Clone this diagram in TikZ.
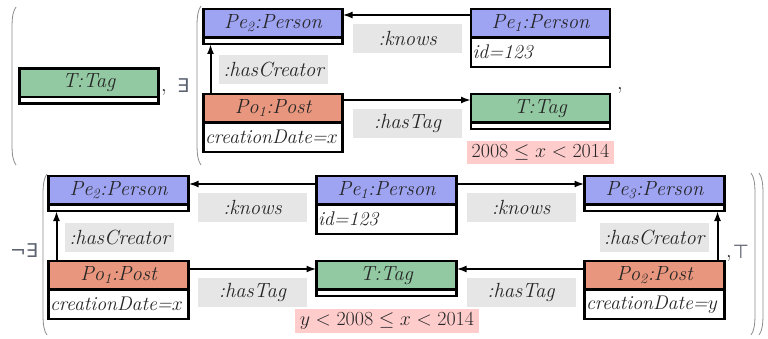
\RequirePackage{fix-cm}
\documentclass[tikz,border=0pt]{standalone}
\usepackage{fontspec}
\newfontfamily\symfont{DejaVu Sans}
\usetikzlibrary{arrows.meta}
\definecolor{personfill}{HTML}{9EA3F2}
\definecolor{postfill}{HTML}{E8967D}
\definecolor{tagfill}{HTML}{92C8A2}
\definecolor{lblfill}{HTML}{E6E6E6}
\definecolor{condfill}{HTML}{FFCCCC}
\definecolor{delimgray}{HTML}{8C8C8C}
\definecolor{symgray}{HTML}{5C6270}

\begin{document}
\begin{tikzpicture}[x=1pt,y=-1pt,
  every node/.style={inner sep=0pt, outer sep=0pt},
  boxfont/.style={font=\fontsize{20.5}{23}\selectfont\itshape},
  attrfont/.style={font=\fontsize{19.8}{23}\selectfont\itshape},
  classhead/.style={draw, line width=2.4pt, minimum width=139pt, minimum height=28.5pt,
    anchor=north west, boxfont, text=black!85},
  person/.style={classhead, fill=personfill},
  post/.style={classhead, fill=postfill},
  tag/.style={classhead, fill=tagfill},
  strip/.style={draw, line width=2.4pt, fill=white, minimum width=139pt,
    minimum height=6.5pt, anchor=north},
  attr/.style={draw, line width=2.4pt, fill=white, minimum width=139pt,
    minimum height=29.5pt, anchor=north, text width=136pt, align=left,
    inner xsep=1.5pt, attrfont, text=black!85},
  wide/.style={minimum width=140pt},
  wideattr/.style={minimum width=140pt, text width=137pt},
  lbl/.style={fill=lblfill, minimum width=109pt, minimum height=29pt, boxfont, text=black!85},
  cond/.style={fill=condfill, minimum height=23.5pt, font=\fontsize{20}{23}\selectfont, text=black!85},
  conn/.style={line width=2pt, -{Latex[length=10pt,width=7pt]}},
  delim/.style={draw=delimgray, line width=0.8pt},
  sym/.style={font=\symfont\fontsize{19}{22}\selectfont, text=symgray},
  punct/.style={anchor=base, boxfont, text=black!85}]

\useasboundingbox (0,0) rectangle (768,339);

% ---------- first line ----------
\draw[delim] (16,7) .. controls (13,11) and (12,17) .. (12,28) -- (12,144)
  .. controls (12,155) and (13,161) .. (16,165);
\node[tag] (tg0) at (19.5,68.5) {T:Tag};
\node[strip] (tg0s) at (tg0.south) {};
\node[punct] (cm1) at (164,92) {$,$};
\node[sym] (ex1) at (183,85.5) {∃};
\draw[delim] (201,6) .. controls (198,10) and (197,16) .. (197,27) -- (197,144)
  .. controls (197,155) and (198,161) .. (201,165);

\node[person] (pe2) at (203.5,9) {Pe\textsubscript{2}:Person};
\node[strip] (pe2s) at (pe2.south) {};
\node[post] (po1) at (203.5,94) {Po\textsubscript{1}:Post};
\node[attr] (po1a) at (po1.south) {creationDate=$x$};
\node[person] (pe1) at (471,9) {Pe\textsubscript{1}:Person};
\node[attr] (pe1a) at (pe1.south) {id=123};
\node[tag] (tg1) at (471,94) {T:Tag};
\node[strip] (tg1s) at (tg1.south) {};
\node[punct] (cm2) at (620,90) {$,$};

\draw[conn] ([yshift=-6pt]pe1.north west) -- ([yshift=-6pt]pe2.north east);
\draw[conn] ([xshift=7pt]po1.north west) -- ([xshift=7pt]pe2s.south west);
\draw[conn] ([yshift=-6pt]po1.north east) -- ([yshift=-6pt]tg1.north west);

\node[lbl] (k1) at (407.5,38.7) {:knows};
\node[lbl] (hc1) at (273.5,69.5) {:hasCreator};
\node[lbl] (ht1) at (407.5,123.5) {:hasTag};
\node[cond, minimum width=147pt] (c1) at (540.5,152.5) {$2008\leq x<2014$};

% ---------- second line ----------
\node[sym] (nex) at (24,251) {¬∃};
\draw[delim] (47,174) .. controls (44,178) and (43,184) .. (43,195) -- (43,314)
  .. controls (43,325) and (44,331) .. (47,335);

\node[person, wide] (qe2) at (48.5,176) {Pe\textsubscript{2}:Person};
\node[strip, wide] (qe2s) at (qe2.south) {};
\node[person, wide] (qe1) at (316.5,176) {Pe\textsubscript{1}:Person};
\node[attr, wideattr] (qe1a) at (qe1.south) {id=123};
\node[person, wide] (qe3) at (584.5,176) {Pe\textsubscript{3}:Person};
\node[strip, wide] (qe3s) at (qe3.south) {};
\node[post, wide] (qo1) at (48.5,261) {Po\textsubscript{1}:Post};
\node[attr, wideattr] (qo1a) at (qo1.south) {creationDate=$x$};
\node[tag, wide] (tg2) at (316.5,261) {T:Tag};
\node[strip, wide] (tg2s) at (tg2.south) {};
\node[post, wide] (qo2) at (584.5,261) {Po\textsubscript{2}:Post};
\node[attr, wideattr] (qo2a) at (qo2.south) {creationDate=$y$};

\draw[conn] ([yshift=-8pt]qe1.north west) -- ([yshift=-8pt]qe2.north east);
\draw[conn] ([yshift=-8pt]qe1.north east) -- ([yshift=-8pt]qe3.north west);
\draw[conn] ([xshift=8pt]qo1.north west) -- ([xshift=8pt]qe2s.south west);
\draw[conn] ([xshift=-7pt]qo2.north east) -- ([xshift=-7pt]qe3s.south east);
\draw[conn] ([yshift=-8pt]qo1.north east) -- ([yshift=-8pt]tg2.north west);
\draw[conn] ([yshift=-8pt]qo2.north west) -- ([yshift=-8pt]tg2.north east);

\node[lbl] (k2) at (252.5,207.5) {:knows};
\node[lbl] (k3) at (521,207.5) {:knows};
\node[lbl] (hc2) at (119.5,237) {:hasCreator};
\node[lbl] (hc3) at (654,237) {:hasCreator};
\node[lbl] (ht2) at (252.5,292) {:hasTag};
\node[lbl] (ht3) at (521,292) {:hasTag};
\node[cond, minimum width=184pt] (c2) at (387,321) {$y<2008\leq x<2014$};

\node[punct] (cm3) at (729,257) {$,$};
\node[sym] (top) at (741,251.5) {⊤};
\draw[delim] (751,173) .. controls (754,177) and (755,183) .. (755,194) -- (755,314)
  .. controls (755,325) and (754,331) .. (751,335);
\draw[delim] (759,173) .. controls (762,177) and (763,183) .. (763,194) -- (763,314)
  .. controls (763,325) and (762,331) .. (759,335);
\end{tikzpicture}
\end{document}
